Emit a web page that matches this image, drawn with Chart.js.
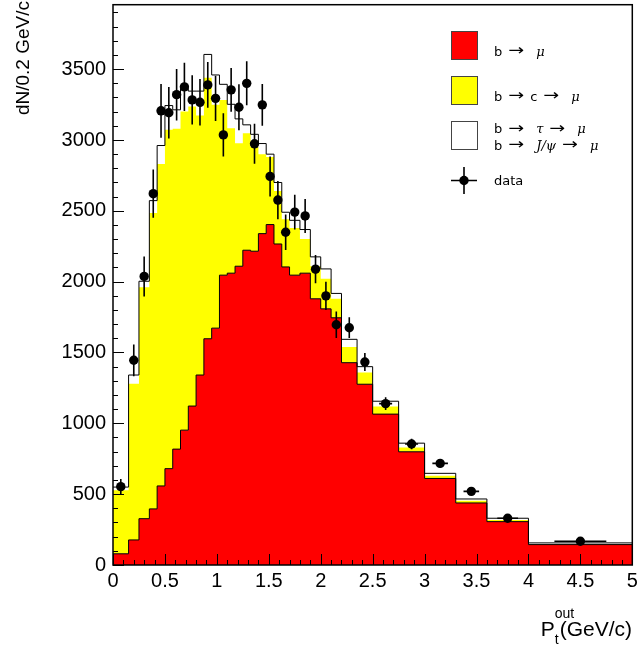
<!DOCTYPE html>
<html>
<head>
<meta charset="utf-8">
<script src="https://cdn.jsdelivr.net/npm/chart.js@4.4.0/dist/chart.umd.min.js"></script>
<style>
  html, body { margin: 0; padding: 0; background: #fff; }
</style>
</head>
<body>
<canvas id="ptout" width="637" height="648"></canvas>
<script>
// bin edges of the Pt_out histogram (GeV/c), variable width
const binEdges = [0, 0.15, 0.25, 0.35, 0.425, 0.5, 0.575, 0.65, 0.725, 0.8, 0.875, 0.95, 1.025,
  1.1, 1.175, 1.25, 1.325, 1.4, 1.475, 1.55, 1.625, 1.7, 1.8, 1.9, 2.0, 2.1, 2.2, 2.35, 2.5,
  2.75, 3.0, 3.3, 3.6, 4.0, 5.0];

// MC components, dN/0.2 GeV/c per bin
const bToMu = [79, 177, 327, 396, 558, 680, 818, 952, 1122, 1341, 1597, 1672, 2046, 2060, 2109,
  2222, 2215, 2339, 2403, 2266, 2104, 2046, 2060, 1879, 1808, 1745, 1428, 1276, 1065, 799, 611,
  438, 306, 144];
const bToCToMu = [449, 1103, 1634, 2089, 2272, 2392, 2261, 2249, 2114, 1832, 1843, 1576, 1237,
  1023, 868, 826, 735, 561, 477, 374, 336, 333, 242, 230, 212, 134, 111, 82, 53, 31, 19, 16, 12, 5];
const bToTauJpsi = [22, 61, 42, 87, 131, 171, 134, 164, 109, 172, 164, 211, 110, 169, 172, 59,
  90, 75, 20, 60, 50, 54, 66, 66, 70, 38, 54, 42, 38, 30, 17, 12, 12, 7];

// data points and their errors
const dataCounts = [553, 1445, 2037, 2621, 3206, 3192, 3320, 3375, 3283, 3266, 3389, 3294, 3036,
  3354, 3231, 3400, 2973, 3248, 2743, 2576, 2349, 2491, 2464, 2088, 1900, 1696, 1675, 1433, 1139,
  854, 717, 520, 330, 168];
const dataErrors = [54, 112, 141, 170, 190, 182, 182, 170, 174, 164, 162, 160, 152, 155, 162,
  155, 141, 148, 141, 135, 125, 122, 120, 100, 100, 94, 73, 64, 45, 37, 28, 25, 20, 12];

const xTickLabels = [0, 0.5, 1, 1.5, 2, 2.5, 3, 3.5, 4, 4.5, 5];
const yTickLabels = [0, 500, 1000, 1500, 2000, 2500, 3000, 3500];

const legendNames = ['b → μ', 'b → c → μ', ['b → τ → μ', 'b → J/ψ → μ'], 'data'];
const xTitle = ['P', 't', 'out', '(GeV/c)'];
const yTitle = 'dN/0.2 GeV/c';

const nBins = bToMu.length;
const yMax = 3955;

// cumulative tops for the stack
const redTop = bToMu.slice();
const yellowTop = bToMu.map((v, i) => v + bToCToMu[i]);
const totalTop = yellowTop.map((v, i) => v + bToTauJpsi[i]);

function stepPoints(vals) {
  return binEdges.map((e, i) => ({ x: e, y: vals[Math.min(i, nBins - 1)] }));
}
const dataPoints = dataCounts.map((v, i) => ({ x: (binEdges[i] + binEdges[i + 1]) / 2, y: v }));

const greek = /[μτψ]/;

function drawTokens(ctx, text, x, y) {
  text.split(' ').forEach((tok, k) => {
    if (k > 0) x += greek.test(tok) ? 12 : 6;
    if (tok === '→') {
      ctx.font = '19px "DejaVu Sans"';
      ctx.save();
      ctx.scale(1, 0.8);
      ctx.fillText(tok, x, (y - 0.5) / 0.8);
      ctx.restore();
    } else {
      ctx.font = greek.test(tok) ? 'italic 13px "DejaVu Serif"' : '13px "DejaVu Sans"';
      ctx.fillText(tok, x, y);
    }
    x += ctx.measureText(tok).width;
  });
}

const rootFrame = {
  id: 'rootFrame',
  beforeDatasetDraw(chart, args) {
    if (args.index !== 3) return;
    const { ctx, scales: { x, y } } = chart;
    ctx.save();
    ctx.strokeStyle = '#000';
    ctx.lineWidth = 1.6;
    dataCounts.forEach((v, i) => {
      const lo = binEdges[i], hi = binEdges[i + 1];
      const c = (lo + hi) / 2, hw = (hi - lo) / 4;
      const px = x.getPixelForValue(c), py = y.getPixelForValue(v);
      ctx.beginPath();
      ctx.moveTo(px, y.getPixelForValue(v - dataErrors[i]));
      ctx.lineTo(px, y.getPixelForValue(v + dataErrors[i]));
      ctx.moveTo(x.getPixelForValue(c - hw), py);
      ctx.lineTo(x.getPixelForValue(c + hw), py);
      ctx.stroke();
    });
    ctx.restore();
  },
  afterDraw(chart) {
    const { ctx, chartArea: a, scales: { x, y } } = chart;
    ctx.save();
    // frame
    ctx.strokeStyle = '#000';
    ctx.lineWidth = 1.5;
    ctx.strokeRect(a.left, a.top, a.right - a.left, a.bottom - a.top);

    // ticks pointing inside
    ctx.lineWidth = 1;
    ctx.beginPath();
    const xStep = (xTickLabels[1] - xTickLabels[0]) / 5;
    for (let k = 0; k * xStep <= x.max + 1e-9; k++) {
      const px = Math.round(x.getPixelForValue(k * xStep)) + 0.5;
      const len = k % 5 === 0 ? 11 : 5;
      ctx.moveTo(px, a.bottom);
      ctx.lineTo(px, a.bottom - len);
    }
    const yStep = (yTickLabels[1] - yTickLabels[0]) / 5;
    for (let k = 0; k * yStep <= y.max; k++) {
      const py = Math.round(y.getPixelForValue(k * yStep)) + 0.5;
      const len = k % 5 === 0 ? 11 : 5;
      ctx.moveTo(a.left, py);
      ctx.lineTo(a.left + len, py);
    }
    ctx.stroke();

    // y title, rotated, flush with the top
    ctx.fillStyle = '#000';
    ctx.save();
    ctx.translate(29, 1);
    ctx.rotate(-Math.PI / 2);
    ctx.font = '19px "Liberation Sans"';
    ctx.textAlign = 'right';
    ctx.textBaseline = 'alphabetic';
    ctx.fillText(yTitle, 0, 0);
    ctx.restore();

    // x title with sub/superscript
    ctx.textAlign = 'left';
    ctx.textBaseline = 'alphabetic';
    ctx.font = '21px "Liberation Sans"';
    const wP = ctx.measureText(xTitle[0]).width;
    const wG = ctx.measureText(xTitle[3]).width;
    ctx.font = '14px "Liberation Sans"';
    const wt = ctx.measureText(xTitle[1]).width;
    const x0 = 632 - (wP + wt + 1 + wG);
    ctx.font = '21px "Liberation Sans"';
    ctx.fillText(xTitle[0], x0, 636);
    ctx.fillText(xTitle[3], x0 + wP + wt + 1, 636);
    ctx.font = '14px "Liberation Sans"';
    ctx.fillText(xTitle[1], x0 + wP, 644);
    ctx.fillText(xTitle[2], x0 + wP, 618);

    // legend
    const boxes = [
      { top: 31, fill: '#ff0000' },
      { top: 76, fill: '#ffff00' },
      { top: 121, fill: '#ffffff' }
    ];
    const baselines = [[55.5], [100.5], [133, 149.5], [184.5]];
    ctx.lineWidth = 1;
    ctx.strokeStyle = '#444';
    boxes.forEach(b => {
      ctx.fillStyle = b.fill;
      ctx.fillRect(451, b.top, 26, 28);
      ctx.strokeRect(451.5, b.top + 0.5, 26, 28);
    });
    // data symbol
    ctx.strokeStyle = '#000';
    ctx.lineWidth = 1.6;
    ctx.beginPath();
    ctx.moveTo(451, 180.5); ctx.lineTo(477, 180.5);
    ctx.moveTo(464, 167); ctx.lineTo(464, 194);
    ctx.stroke();
    ctx.fillStyle = '#000';
    ctx.beginPath();
    ctx.arc(464, 180.5, 4.7, 0, Math.PI * 2);
    ctx.fill();

    legendNames.forEach((name, i) => {
      const lines = Array.isArray(name) ? name : [name];
      lines.forEach((t, j) => drawTokens(ctx, t, 494, baselines[i][j]));
    });
    ctx.restore();
  }
};

const tickFont = { family: 'Liberation Sans', size: 20 };

new Chart(document.getElementById('ptout'), {
  type: 'line',
  data: {
    datasets: [
      {
        label: legendNames[0],
        data: stepPoints(redTop),
        stepped: 'before',
        borderColor: '#000',
        borderWidth: 1,
        backgroundColor: '#ff0000',
        fill: 'origin',
        pointRadius: 0,
        order: 2
      },
      {
        label: legendNames[1],
        data: stepPoints(yellowTop),
        stepped: 'before',
        borderColor: 'rgba(0,0,0,0)',
        borderWidth: 1,
        backgroundColor: '#ffff00',
        fill: 0,
        pointRadius: 0,
        order: 3
      },
      {
        label: 'b → τ → μ, b → J/ψ → μ',
        data: stepPoints(totalTop),
        stepped: 'before',
        borderColor: '#000',
        borderWidth: 1,
        fill: false,
        pointRadius: 0,
        order: 1
      },
      {
        label: legendNames[3],
        data: dataPoints,
        showLine: false,
        pointRadius: 4.7,
        pointBackgroundColor: '#000',
        pointBorderWidth: 0,
        order: 0
      }
    ]
  },
  options: {
    responsive: false,
    animation: false,
    devicePixelRatio: 1,
    events: [],
    layout: { padding: { top: 3, right: 4, left: 0, bottom: 0 } },
    plugins: {
      legend: { display: false },
      title: { display: false },
      tooltip: { enabled: false }
    },
    scales: {
      x: {
        type: 'linear',
        min: 0,
        max: 5,
        grid: { display: false, drawTicks: false },
        border: { display: false },
        ticks: {
          font: tickFont, color: '#000', padding: 4, maxRotation: 0, autoSkip: false,
          callback: v => String(v)
        },
        afterBuildTicks: s => { s.ticks = xTickLabels.map(v => ({ value: v })); },
        afterFit: s => { s.height = 83; s.paddingLeft = 0; s.paddingRight = 0; }
      },
      y: {
        type: 'linear',
        min: 0,
        max: yMax,
        grid: { display: false, drawTicks: false },
        border: { display: false },
        ticks: { font: tickFont, color: '#000', padding: 7, callback: v => String(v) },
        afterBuildTicks: s => { s.ticks = yTickLabels.map(v => ({ value: v })); },
        afterFit: s => { s.width = 113; s.paddingTop = 0; s.paddingBottom = 0; }
      }
    }
  },
  plugins: [rootFrame]
});
</script>
</body>
</html>
